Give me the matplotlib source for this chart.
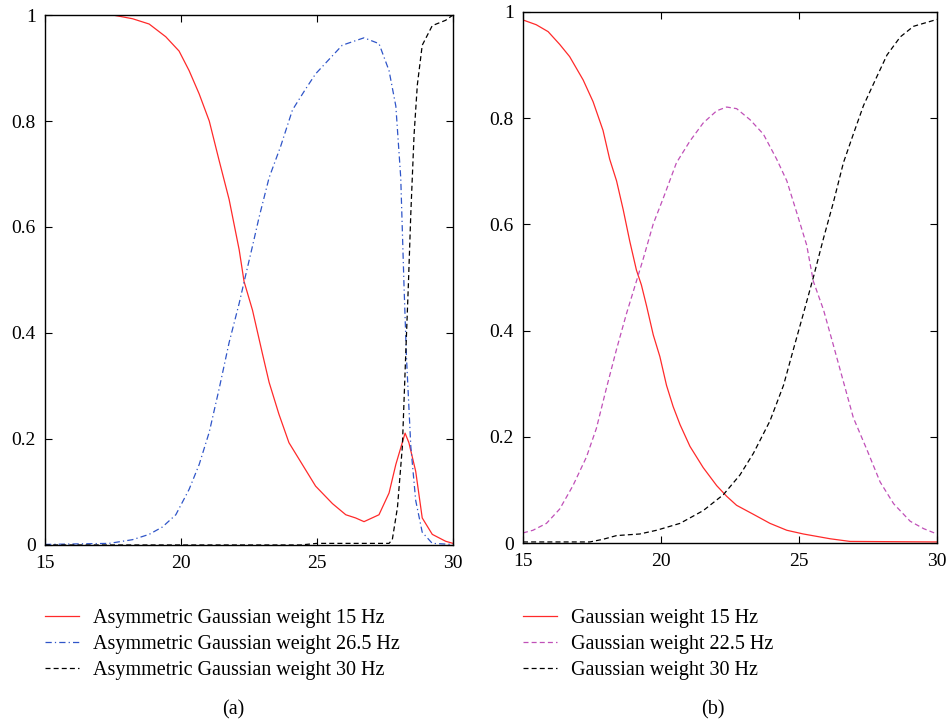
import numpy as np
import matplotlib
matplotlib.use("Agg")
import matplotlib.pyplot as plt

plt.rcParams['font.family'] = ['Liberation Serif', 'DejaVu Serif']

# (a) asymmetric gaussian weights
a15_x = [15, 17.49, 18.22, 18.83, 19.44, 19.93, 20.30, 20.67, 21.04, 21.40, 21.77, 22.14, 22.32,
         22.63, 22.99, 23.24, 23.60, 23.97, 24.46, 24.95, 25.57, 26.06, 26.42, 26.73, 27.28,
         27.65, 27.90, 28.24, 28.38, 28.63, 28.87, 29.24, 29.73, 30.0]
a15_y = [1.0, 1.0, 0.993, 0.983, 0.959, 0.932, 0.895, 0.851, 0.80, 0.726, 0.652, 0.557, 0.497,
         0.443, 0.362, 0.307, 0.247, 0.193, 0.152, 0.111, 0.078, 0.057, 0.051, 0.044, 0.057,
         0.098, 0.152, 0.211, 0.193, 0.139, 0.051, 0.020, 0.007, 0.003]

a265_x = [15, 17.36, 18.22, 18.83, 19.32, 19.81, 20.30, 20.67, 21.04, 21.40, 21.77, 22.14, 22.35,
          22.63, 22.87, 23.24, 23.67, 24.10, 24.59, 24.95, 25.44, 25.93, 26.73, 27.28, 27.65,
          27.90, 28.08, 28.20, 28.29, 28.45, 28.63, 28.87, 29.24, 30.0]
a265_y = [0.001, 0.003, 0.010, 0.020, 0.034, 0.057, 0.105, 0.152, 0.213, 0.294, 0.382, 0.456, 0.503,
          0.564, 0.618, 0.693, 0.753, 0.821, 0.861, 0.889, 0.916, 0.943, 0.957, 0.946, 0.895,
          0.828, 0.693, 0.490, 0.355, 0.186, 0.084, 0.024, 0.003, 0.001]

a30_x = [15, 24.4, 25.0, 27.65, 27.77, 27.96, 28.14, 28.26, 28.36, 28.45, 28.57, 28.69, 28.87,
         29.24, 29.73, 30.0]
a30_y = [0.0, 0.0, 0.003, 0.003, 0.010, 0.071, 0.186, 0.355, 0.490, 0.625, 0.774, 0.868, 0.943,
         0.980, 0.990, 1.0]

# (b) gaussian weights
g15_x = [15, 15.48, 15.91, 16.33, 16.69, 17.18, 17.54, 17.90, 18.14, 18.39, 18.63, 18.87, 19.11,
         19.29, 19.48, 19.72, 19.96, 20.20, 20.44, 20.69, 21.05, 21.53, 22.02, 22.38, 22.74,
         23.35, 23.95, 24.56, 25.16, 26.13, 26.85, 30.0]
g15_y = [0.985, 0.976, 0.963, 0.939, 0.916, 0.872, 0.831, 0.777, 0.723, 0.682, 0.628, 0.568, 0.514,
         0.486, 0.446, 0.392, 0.351, 0.297, 0.257, 0.223, 0.182, 0.142, 0.108, 0.088, 0.071,
         0.054, 0.037, 0.024, 0.017, 0.008, 0.003, 0.002]

g225_x = [15, 15.36, 15.85, 16.33, 16.81, 17.30, 17.66, 18.02, 18.39, 18.75, 19.11, 19.35, 19.72,
          20.08, 20.56, 21.05, 21.53, 22.02, 22.38, 22.74, 23.23, 23.71, 24.19, 24.56, 24.92,
          25.28, 25.52, 25.89, 26.25, 26.61, 26.97, 27.46, 27.94, 28.43, 29.03, 29.52, 30.0]
g225_y = [0.019, 0.024, 0.037, 0.064, 0.108, 0.162, 0.216, 0.291, 0.365, 0.432, 0.493, 0.534, 0.601,
          0.649, 0.716, 0.757, 0.791, 0.814, 0.821, 0.818, 0.797, 0.770, 0.723, 0.682, 0.622,
          0.561, 0.493, 0.439, 0.372, 0.304, 0.236, 0.176, 0.115, 0.074, 0.041, 0.027, 0.017]

g30_x = [15, 17.42, 17.90, 18.39, 19.23, 19.84, 20.69, 21.53, 22.26, 22.86, 23.35, 23.95, 24.44,
         24.80, 25.16, 25.52, 25.89, 26.25, 26.61, 26.97, 27.34, 27.82, 28.19, 28.67, 29.15, 30.0]
g30_y = [0.002, 0.002, 0.007, 0.014, 0.017, 0.024, 0.037, 0.061, 0.091, 0.128, 0.169, 0.230, 0.297,
         0.365, 0.432, 0.500, 0.574, 0.642, 0.716, 0.770, 0.824, 0.878, 0.919, 0.953, 0.973, 0.986]

labels_a = ['Asymmetric Gaussian weight 15 Hz', 'Asymmetric Gaussian weight 26.5 Hz',
            'Asymmetric Gaussian weight 30 Hz']
labels_b = ['Gaussian weight 15 Hz', 'Gaussian weight 22.5 Hz', 'Gaussian weight 30 Hz']

red = '#ff2a2a'
blue = '#2f55c8'
magenta = '#c050b8'

fig = plt.figure(figsize=(9.49, 7.22), dpi=100)
ax1 = fig.add_axes([0.0474, 0.2452, 0.4299, 0.734])
ax2 = fig.add_axes([0.5511, 0.2479, 0.4362, 0.7355])

ax1.plot(a15_x, a15_y, color=red, lw=0.9, label=labels_a[0])
ax1.plot(a265_x, a265_y, color=blue, lw=0.9, ls=(0, (5, 2.5, 1, 2.5)), label=labels_a[1])
ax1.plot(a30_x, a30_y, color='black', lw=0.9, ls=(0, (4, 2.5)), label=labels_a[2])

ax2.plot(g15_x, g15_y, color=red, lw=0.9, label=labels_b[0])
ax2.plot(g225_x, g225_y, color=magenta, lw=0.9, ls=(0, (4, 2.5)), label=labels_b[1])
ax2.plot(g30_x, g30_y, color='black', lw=0.9, ls=(0, (4, 2.5)), label=labels_b[2])

for ax in (ax1, ax2):
    ax.set_xlim(15, 30)
    ax.set_ylim(0, 1)
    ax.set_xticks([15, 20, 25, 30])
    ax.set_yticks([0, 0.2, 0.4, 0.6, 0.8, 1])
    ax.set_yticklabels(['0', '0.2', '0.4', '0.6', '0.8', '1'])
    ax.tick_params(direction='in', top=True, right=True, labelsize=14, length=5, width=0.8)
    ax.tick_params(axis='x', pad=7.5)
    ax.tick_params(axis='y', pad=6.5)
    for s in ax.spines.values():
        s.set_linewidth(1.0)

legend_kw = dict(loc='upper left', frameon=False, fontsize=14.5, handlelength=1.7,
                 handletextpad=0.7, labelspacing=0.36, borderaxespad=0, borderpad=0)
fig.legend(handles=ax1.get_lines(), labels=labels_a, bbox_to_anchor=(0.0474, 0.157), **legend_kw)
fig.legend(handles=ax2.get_lines(), labels=labels_b, bbox_to_anchor=(0.5511, 0.157), **legend_kw)

fig.text(0.2455, 0.0166, '(a)', ha='center', va='center', fontsize=14.5)
fig.text(0.7513, 0.0166, '(b)', ha='center', va='center', fontsize=14.5)

fig.savefig('out.png', dpi=100)
